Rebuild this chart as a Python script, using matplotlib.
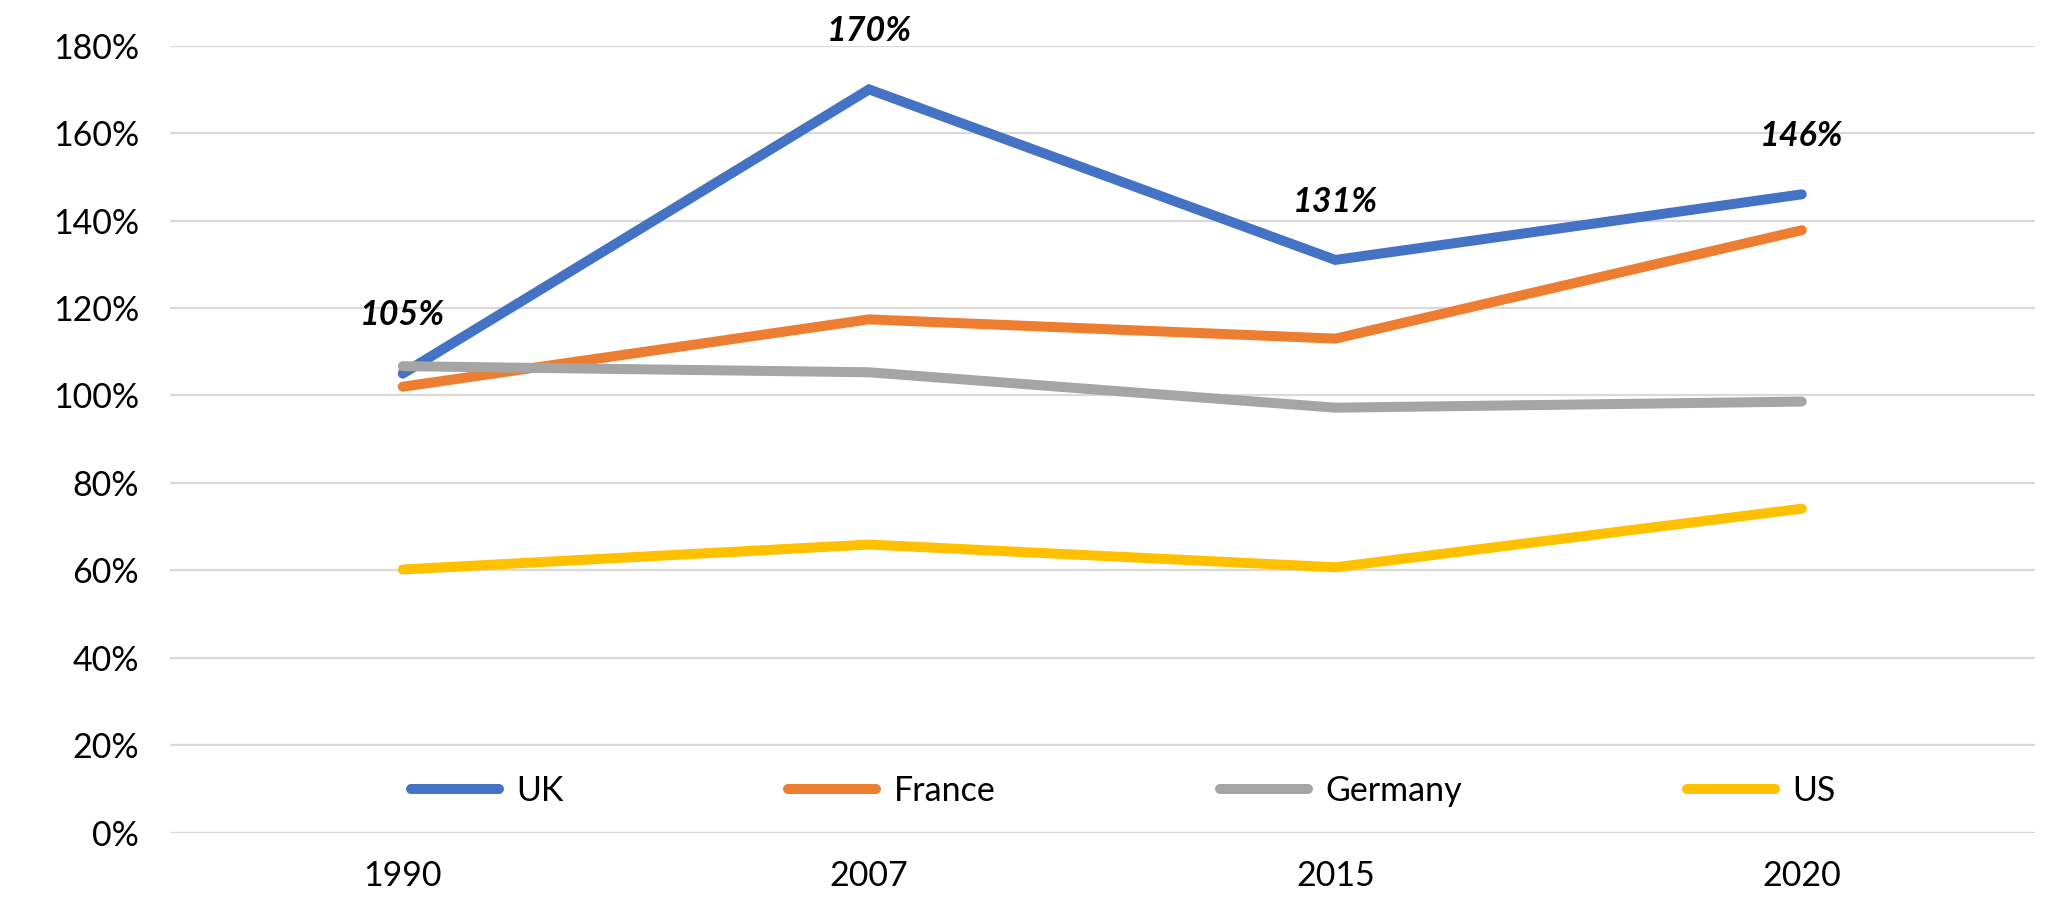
import matplotlib.pyplot as plt
from matplotlib.ticker import FuncFormatter

plt.rcParams['font.family'] = ['Lato', 'DejaVu Sans']

years = ['1990', '2007', '2015', '2020']
uk = [105, 170, 131, 146]
france = [102, 117.4, 113, 137.8]
germany = [106.7, 105.3, 97.2, 98.6]
us = [60.2, 65.9, 60.7, 74.1]

series = [
    ('UK', uk, '#4472C4'),
    ('France', france, '#ED7D31'),
    ('Germany', germany, '#A5A5A5'),
    ('US', us, '#FFC000'),
]

fig = plt.figure(figsize=(20.68, 9.14), dpi=100)
ax = fig.add_axes([0.082, 0.089, 0.902, 0.861])

x = list(range(len(years)))
for name, vals, col in series:
    ax.plot(x, vals, color=col, lw=7.2, label=name, solid_capstyle='round',
            solid_joinstyle='miter', zorder=3)

# data labels for UK only
for xi, v in zip(x, uk):
    ax.annotate(f'{v:.0f}%', (xi, v), xytext=(0, 42), textcoords='offset points',
                ha='center', va='center', fontsize=24.5, fontweight='bold',
                fontstyle='italic', annotation_clip=False)

ax.set_xlim(-0.5, len(years) - 0.5)
ax.set_ylim(0, 180)
ax.set_yticks(range(0, 181, 20))
ax.yaxis.set_major_formatter(FuncFormatter(lambda v, p: f'{v:.0f}%'))
ax.set_xticks(x)
ax.set_xticklabels(years)
ax.tick_params(axis='both', length=0, labelsize=24.5, colors='black')
ax.tick_params(axis='y', pad=22)
ax.tick_params(axis='x', pad=20)
ax.grid(axis='y', color='#D9D9D9', lw=1.6)
ax.set_axisbelow(True)
for s in ax.spines.values():
    s.set_visible(False)

fig.legend(loc='center', bbox_to_anchor=(0.543, 0.135), ncol=4, frameon=False,
           fontsize=24.5, handlelength=2.6, handletextpad=0.5, columnspacing=6.6)

fig.savefig('out.png', dpi=100, facecolor='white')
